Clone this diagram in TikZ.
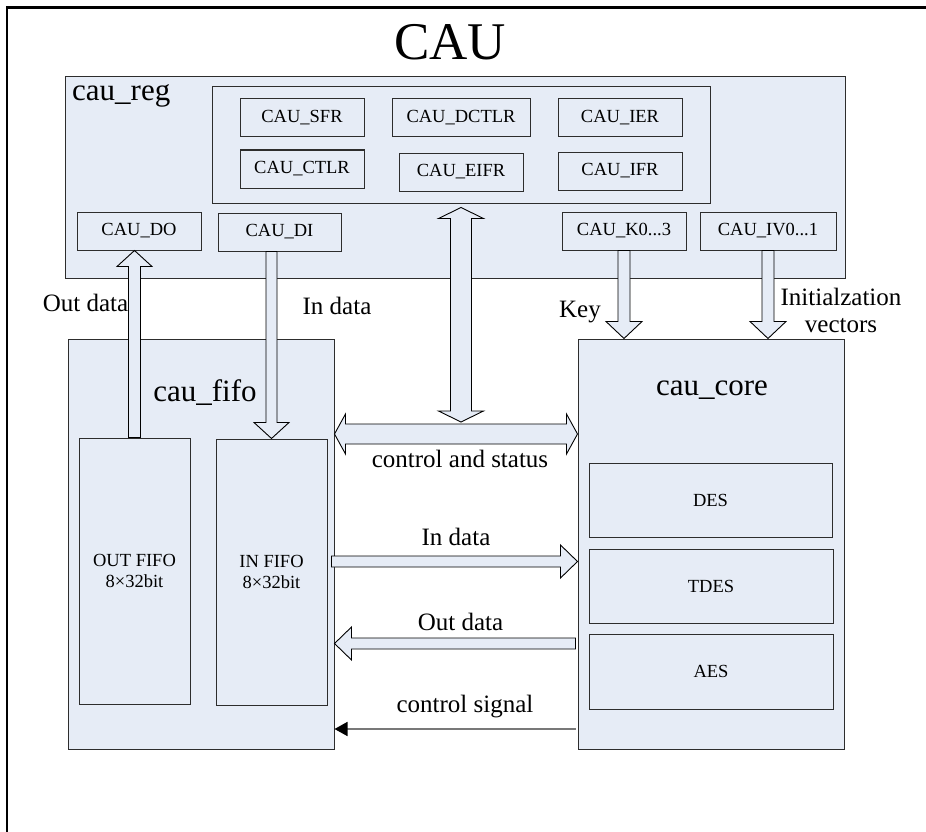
\documentclass[tikz,border=0pt]{standalone}
\usepackage{fontspec}
\setmainfont{Liberation Serif}
\usetikzlibrary{arrows.meta,calc}
\definecolor{lb}{RGB}{230,236,246}
\definecolor{edge}{RGB}{45,45,45}
\definecolor{sigline}{RGB}{120,120,120}
\tikzset{
  box/.style={draw=edge, fill=lb, line width=1pt, inner sep=0pt, align=center,
    font=\fontsize{18.5}{21}\selectfont},
  fat/.style={draw=black, fill=lb, line width=0.9pt, line join=miter},
  lbl/.style={font=\fontsize{25}{28}\selectfont, inner sep=0pt, anchor=base},
  blk/.style={font=\fontsize{31}{34}\selectfont, inner sep=0pt, anchor=base},
  sig/.style={draw=sigline, line width=1.6pt, -{Triangle[length=13pt,width=14pt,color=black]}},
}
% vertical fat arrow: #1 start, #2 tip, #3 half shaft, #4 half head, #5 head length, #6 dir (+1 up, -1 down)
\newcommand\fatV[6]{\draw[fat] let \p1=(#1), \p2=(#2) in
  ({\x1-#3pt},\y1) -- ({\x1-#3pt},{\y2-(#6)*(#5pt)}) -- ({\x1-#4pt},{\y2-(#6)*(#5pt)}) -- (\x1,\y2)
  -- ({\x1+#4pt},{\y2-(#6)*(#5pt)}) -- ({\x1+#3pt},{\y2-(#6)*(#5pt)}) -- ({\x1+#3pt},\y1) -- cycle;}
% horizontal fat arrow: dir +1 right, -1 left
\newcommand\fatH[6]{\draw[fat] let \p1=(#1), \p2=(#2) in
  (\x1,{\y1+#3pt}) -- ({\x2-(#6)*(#5pt)},{\y1+#3pt}) -- ({\x2-(#6)*(#5pt)},{\y1+#4pt}) -- (\x2,\y1)
  -- ({\x2-(#6)*(#5pt)},{\y1-#4pt}) -- ({\x2-(#6)*(#5pt)},{\y1-#3pt}) -- (\x1,{\y1-#3pt}) -- cycle;}
% horizontal double fat arrow: #1 left tip, #2 right tip
\newcommand\fatHH[5]{\draw[fat] let \p1=(#1), \p2=(#2) in
  (\x1,\y1) -- ({\x1+#5pt},{\y1+#4pt}) -- ({\x1+#5pt},{\y1+#3pt}) -- ({\x2-#5pt},{\y1+#3pt})
  -- ({\x2-#5pt},{\y1+#4pt}) -- (\x2,\y1) -- ({\x2-#5pt},{\y1-#4pt}) -- ({\x2-#5pt},{\y1-#3pt})
  -- ({\x1+#5pt},{\y1-#3pt}) -- ({\x1+#5pt},{\y1-#4pt}) -- cycle;}
% vertical double fat arrow: #1 top tip, #2 bottom tip
\newcommand\fatVV[5]{\draw[fat] let \p1=(#1), \p2=(#2) in
  (\x1,\y1) -- ({\x1+#4pt},{\y1-#5pt}) -- ({\x1+#3pt},{\y1-#5pt}) -- ({\x1+#3pt},{\y2+#5pt})
  -- ({\x1+#4pt},{\y2+#5pt}) -- (\x1,\y2) -- ({\x1-#4pt},{\y2+#5pt}) -- ({\x1-#3pt},{\y2+#5pt})
  -- ({\x1-#3pt},{\y1-#5pt}) -- ({\x1-#4pt},{\y1-#5pt}) -- cycle;}

\begin{document}
\begin{tikzpicture}[x=1pt,y=-1pt]
\useasboundingbox (0,0) rectangle (926,832);
\fill[white] (0,0) rectangle (926,832);
% outer frame (top and left sides visible)
\draw[line width=2.5pt] (926,7.5) -- (7,7.5) -- (7,832);

\node[font=\fontsize{53}{60}\selectfont, inner sep=0pt, anchor=base] (title) at (450,60) {CAU};

% cau_reg
\node[box, minimum width=780pt, minimum height=201pt] (reg) at (455,177.5) {};
\node[blk, anchor=base west] (regl) at (72,101) {cau\_reg};
\node[box, minimum width=498pt, minimum height=116pt] (grp) at (461,145) {};
\node[box, minimum width=124pt, minimum height=38pt] (sfr) at (302,118) {CAU\_SFR};
\node[box, minimum width=138pt, minimum height=38pt] (dctlr) at (461,118) {CAU\_DCTLR};
\node[box, minimum width=124pt, minimum height=38pt] (ier) at (620,118) {CAU\_IER};
\node[box, minimum width=124pt, minimum height=38pt] (ctlr) at (302,169) {CAU\_CTLR};
\node[box, minimum width=124pt, minimum height=38pt] (eifr) at (461,172) {CAU\_EIFR};
\node[box, minimum width=124pt, minimum height=38pt] (ifr) at (620,171) {CAU\_IFR};
\node[box, minimum width=124pt, minimum height=38pt] (do) at (139,231) {CAU\_DO};
\node[box, minimum width=123pt, minimum height=38pt] (di) at (279.5,232) {CAU\_DI};
\node[box, minimum width=124pt, minimum height=38pt] (k) at (624,231) {CAU\_K0...3};
\node[box, minimum width=136pt, minimum height=38pt] (iv) at (768,231) {CAU\_IV0...1};

% cau_fifo
\node[box, minimum width=266pt, minimum height=410pt] (fifo) at (201,544) {};
\node[blk] (fifol) at (205,401) {cau\_fifo};
\node[box, minimum width=111pt, minimum height=266pt] (outf) at (134.5,571) {OUT FIFO\\8×32bit};
\node[box, minimum width=111pt, minimum height=266pt] (inf) at (271.5,572) {IN FIFO\\8×32bit};

% cau_core
\node[box, minimum width=266pt, minimum height=410pt] (core) at (711,544) {};
\node[blk] (corel) at (712,395) {cau\_core};
\node[box, minimum width=243pt, minimum height=74pt] (des) at (710.5,500) {DES};
\node[box, minimum width=244pt, minimum height=74pt] (tdes) at (711,586) {TDES};
\node[box, minimum width=244pt, minimum height=75pt] (aes) at (711,671.5) {AES};

% vertical arrows
\fatV{outf.north}{outf.north |- do.south}{6}{17.5}{16}{1}
\fatV{inf.north |- di.south}{inf.north}{5.5}{17.5}{16}{-1}
\fatV{k.south}{k.south |- core.north}{6}{18}{17}{-1}
\fatV{iv.south}{iv.south |- core.north}{6}{18}{17}{-1}
\coordinate (ct) at ($(grp.south)+(0,4)$);
\coordinate (cb) at (461,422);
\fatVV{ct}{cb}{10.5}{22.5}{11}

% horizontal arrows
\fatHH{fifo.east |- 0,434}{core.west |- 0,434}{10}{20}{11}
\coordinate (ids) at ($(fifo.east |- 0,561.5)+(-3,0)$);
\fatH{ids}{core.west |- 0,561.5}{5.5}{16.5}{17}{1}
\coordinate (ods) at ($(core.west |- 0,643.5)+(-2,0)$);
\fatH{ods}{fifo.east |- 0,643.5}{5.5}{16.5}{17}{-1}
\coordinate (css) at ($(core.west |- 0,729)+(-2,0)$);
\draw[sig] (css) -- (fifo.east |- 0,729);

% labels
\node[lbl] (l1) at (85.5,311) {Out data};
\node[lbl] (l2) at (337,314) {In data};
\node[lbl] (l3) at (580,317) {Key};
\node[lbl] (l4) at (841,305) {Initialzation};
\node[lbl] (l5) at (841,332) {vectors};
\node[lbl] (l6) at (460,467) {control and status};
\node[lbl] (l7) at (456,545) {In data};
\node[lbl] (l8) at (460.5,630) {Out data};
\node[lbl] (l9) at (465,712) {control signal};
\end{tikzpicture}
\end{document}
